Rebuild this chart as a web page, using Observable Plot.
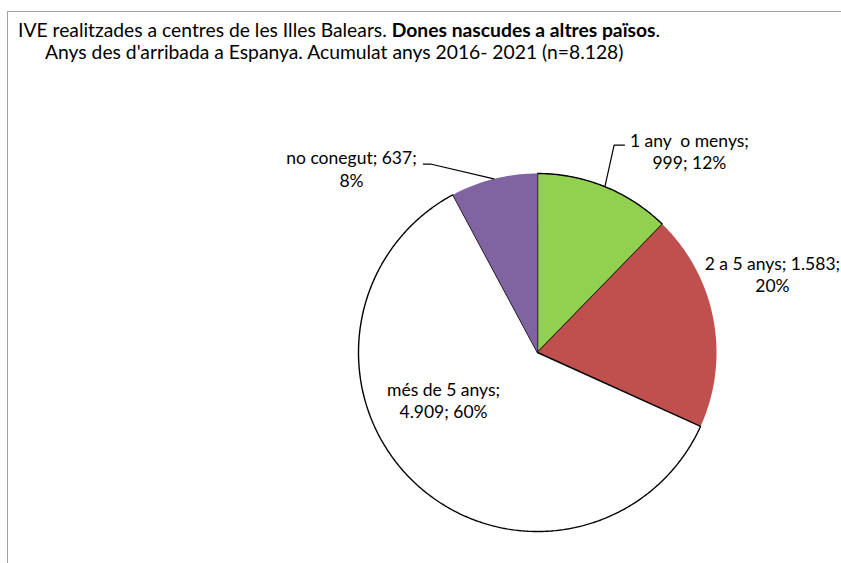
<!DOCTYPE html>
<html>
<head>
<meta charset="utf-8">
<script src="https://cdn.jsdelivr.net/npm/d3@7"></script>
<script src="https://cdn.jsdelivr.net/npm/@observablehq/plot@0.6"></script>
<style>
  html, body { margin: 0; padding: 0; background: #fff; overflow: hidden; }
  #wrap { position: relative; width: 841px; height: 563px; overflow: hidden; font-family: Lato, "Open Sans", sans-serif; }
  #frame { position: absolute; left: 7px; top: 11px; width: 1000px; height: 800px; border: 1.5px solid #a3a3a3; box-sizing: border-box; }
  #title { position: absolute; left: 18px; top: 20px; font-size: 19.3px; line-height: 19px; color: #000; white-space: pre; }
  #subtitle { position: absolute; left: 45px; top: 42px; font-size: 19.3px; line-height: 19px; color: #000; white-space: pre; }
  #chart { position: absolute; left: 0; top: 0; }
</style>
</head>
<body>
<div id="wrap">
  <div id="frame"></div>
  <div id="chart"></div>
  <div id="title"></div>
  <div id="subtitle"></div>
</div>
<script>
// ---- data ----
const categories = ["1 any  o menys", "2 a 5 anys", "més de 5 anys", "no conegut"];
const values = [999, 1583, 4909, 637];
const pctLabels = ["12%", "20%", "60%", "8%"];
const colors = ["#92D050", "#C0504D", "#FFFFFF", "#8064A2"];
const titleNormal = "IVE realitzades a centres de les Illes Balears. ";
const titleBold = "Dones nascudes a altres països";
const subtitle = "Anys des d'arribada a Espanya. Acumulat anys 2016- 2021 (n=8.128)";

// ---- titles ----
const t = document.getElementById("title");
t.append(titleNormal);
const b = document.createElement("b"); b.textContent = titleBold; t.append(b);
t.append(".");
document.getElementById("subtitle").textContent = subtitle;

// ---- layout (styling config) ----
const outlined = [true, false, true, false];
const breakAfterName = [true, false, true, false];
const labelPolar = [[1.41, 37.0], [1.383, 71.6], [0.589, 243.0], [1.462, 314.7]];
const leaderPolar = [[[1.2355, 20.27], [1.2568, 22.75]], null, null, [[1.211, 330.4], [1.2307, 328.8]]];

const loc = d3.formatLocale({decimal: ",", thousands: ".", grouping: [3], currency: ["", "€"]});
const fmt = loc.format(",d");

const arcs = d3.pie().sort(null).value(d => d)(values);
const rad = deg => deg * Math.PI / 180;
const polar = (r, a) => ({x: r * Math.sin(a), y: r * Math.cos(a)});

const marks = [];
arcs.forEach((a, i) => {
  const pts = [{x: 0, y: 0}];
  const n = Math.max(8, Math.ceil((a.endAngle - a.startAngle) / 0.01));
  for (let k = 0; k <= n; k++) {
    pts.push(polar(1, a.startAngle + (a.endAngle - a.startAngle) * k / n));
  }
  pts.push({x: 0, y: 0});
  marks.push(Plot.line(pts, {
    x: "x", y: "y", fill: colors[i],
    stroke: outlined[i] ? "#000" : "none", strokeWidth: 1.4, strokeLinejoin: "miter"
  }));
});

// leader lines
arcs.forEach((a, i) => {
  if (!leaderPolar[i]) return;
  const mid = (a.startAngle + a.endAngle) / 2;
  const pts = [polar(1, mid), ...leaderPolar[i].map(([r, d]) => polar(r, rad(d)))];
  marks.push(Plot.line(pts, {x: "x", y: "y", stroke: "#000", strokeWidth: 1.2}));
});

// labels
const labels = arcs.map((a, i) => {
  const p = polar(labelPolar[i][0], rad(labelPolar[i][1]));
  const name = categories[i] + ";";
  const rest = fmt(values[i]) + "; " + pctLabels[i];
  const text = breakAfterName[i]
    ? name + "\n" + rest
    : name + " " + fmt(values[i]) + ";\n" + pctLabels[i];
  return {x: p.x, y: p.y, text};
});
marks.push(Plot.text(labels, {
  x: "x", y: "y", text: "text", textAnchor: "middle", lineAnchor: "middle",
  lineHeight: 1.26, fontSize: 17.5, fill: "#000"
}));

const plot = Plot.plot({
  width: 841, height: 563,
  margin: 0,
  x: {domain: [-1, 1], range: [537 - 179, 537 + 179], axis: null},
  y: {domain: [-1, 1], range: [352 + 179, 352 - 179], axis: null},
  style: {background: "transparent", fontFamily: "Lato, 'Open Sans', sans-serif", overflow: "hidden"},
  marks
});
document.getElementById("chart").append(plot);
</script>
</body>
</html>
